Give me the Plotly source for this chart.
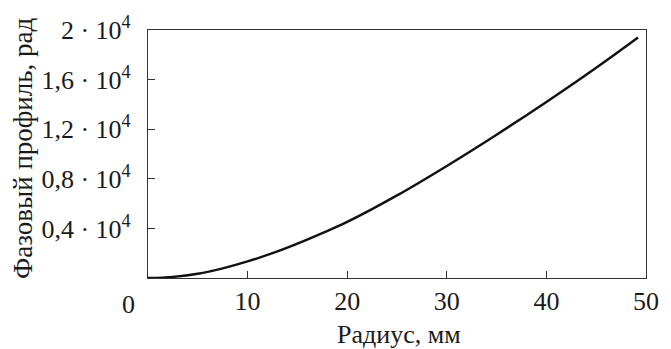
import plotly.graph_objects as go

radius_mm = [0, 2.5, 5, 7.5, 10, 12.5, 15, 17.5, 20, 25, 30, 35, 40, 45, 49.2]
phase_rad = [0, 90, 340, 780, 1340, 2000, 2770, 3620, 4520, 6660, 9040, 11560, 14200, 16960, 19400]

x_tickvals = [10, 20, 30, 40, 50]
x_ticktext = ["10", "20", "30", "40", "50"]
y_tickvals = [4000, 8000, 12000, 16000, 20000]
y_ticktext = ["0,4 · 10<sup>4</sup>", "0,8 · 10<sup>4</sup>", "1,2 · 10<sup>4</sup>",
              "1,6 · 10<sup>4</sup>", "2 · 10<sup>4</sup>"]
x_title = "Радиус, мм"
y_title = "Фазовый профиль, рад"

FONT = "Liberation Serif"
TXT = "#1a1a1a"

fig = go.Figure()
fig.add_trace(go.Scatter(x=radius_mm, y=phase_rad, mode="lines",
                         line=dict(color="#111111", width=2.4, shape="spline"),
                         showlegend=False, hoverinfo="skip"))

axis_common = dict(showgrid=False, zeroline=False, showline=True, linecolor="#333",
                   linewidth=1.3, mirror=True, ticks="inside", ticklen=7,
                   tickcolor="#333", tickwidth=1.3,
                   tickfont=dict(family=FONT, size=26, color=TXT))

fig.update_xaxes(range=[0, 50], tickvals=x_tickvals, ticktext=x_ticktext,
                 ticklabelstandoff=0, **axis_common)
fig.update_yaxes(range=[0, 20000], tickvals=y_tickvals, ticktext=y_ticktext,
                 ticklabelstandoff=11, **axis_common)

# axis titles as annotations for precise placement
fig.add_annotation(text=x_title, xref="paper", yref="paper", x=0.5, y=0,
                   xanchor="center", yanchor="middle", xshift=1.5, yshift=-56,
                   showarrow=False, font=dict(family=FONT, size=26, color=TXT))
fig.add_annotation(text=y_title, xref="paper", yref="paper", x=0, y=0.5,
                   xanchor="center", yanchor="middle", xshift=-125, yshift=6,
                   textangle=-90, showarrow=False,
                   font=dict(family=FONT, size=27, color=TXT))

fig.add_annotation(text="0", xref="paper", yref="paper", x=0, y=0,
                   xanchor="center", yanchor="middle", xshift=-19.5, yshift=-26,
                   showarrow=False, font=dict(family=FONT, size=26, color=TXT))

fig.update_layout(width=671, height=349, margin=dict(l=148, r=15, t=22, b=71),
                  plot_bgcolor="white", paper_bgcolor="white")

fig.write_html("out.html", config={"displayModeBar": False},
               post_script="document.body.style.margin='0';document.body.style.overflow='hidden';")
